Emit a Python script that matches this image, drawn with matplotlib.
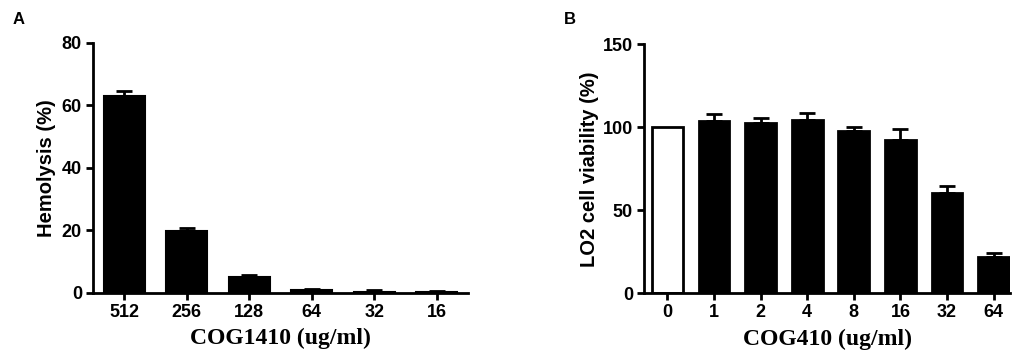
import matplotlib
matplotlib.use("Agg")
import matplotlib.pyplot as plt
import numpy as np

# Panel A - hemolysis
conc_a = ['512', '256', '128', '64', '32', '16']
hemolysis = [63.1, 19.8, 5.0, 0.8, 0.3, 0.2]
hemolysis_err = [1.5, 0.9, 0.9, 0.6, 0.5, 0.5]

# Panel B - LO2 cell viability
conc_b = ['0', '1', '2', '4', '8', '16', '32', '64']
viability = [100.0, 103.8, 102.4, 104.2, 98.0, 92.5, 60.4, 21.7]
viability_err = [0.0, 4.2, 3.4, 4.2, 2.4, 6.7, 4.4, 2.8]

TICK_FONT = dict(family='Liberation Sans', weight='bold', size=13)
XLAB_FONT = dict(family='Liberation Serif', weight='bold', size=17)
YLAB_FONT = dict(family='Liberation Sans', weight='bold', size=14.5)


def style_axes(ax):
    '''Prism-like look: only left and bottom spines, thick, outward ticks'''
    for side in ['top', 'right']:
        ax.spines[side].set_visible(False)
    for side in ['left', 'bottom']:
        ax.spines[side].set_linewidth(2)
        ax.spines[side].set_color('black')
    ax.tick_params(axis='both', width=2, length=5, direction='out', pad=3)
    for lab in ax.get_xticklabels() + ax.get_yticklabels():
        lab.set_fontproperties(matplotlib.font_manager.FontProperties(**TICK_FONT))


fig = plt.figure(figsize=(10.21, 3.57), dpi=100)

# Panel A
ax1 = fig.add_axes([0.0911, 0.1793, 0.3673, 0.7003])
x_a = np.arange(len(conc_a))
ax1.bar(x_a, hemolysis, width=0.66, color='black', edgecolor='black',
        linewidth=1.5, zorder=2)
ax1.errorbar(x_a, hemolysis, yerr=[np.zeros(len(x_a)), hemolysis_err],
             fmt='none', ecolor='black', elinewidth=2, capsize=6, capthick=2,
             zorder=1)
ax1.set_xlim(-0.5, 5.5)
ax1.set_ylim(0, 80)
ax1.set_yticks([0, 20, 40, 60, 80])
ax1.set_xticks(x_a)
ax1.set_xticklabels(conc_a)
style_axes(ax1)
ax1.set_xlabel('COG1410 (ug/ml)', labelpad=5, **XLAB_FONT)
ax1.set_ylabel('Hemolysis (%)', labelpad=4, **YLAB_FONT)
fig.text(0.012, 0.945, 'A', family='Liberation Sans', weight='bold',
         size=12, ha='left', va='center')

# Panel B
ax2 = fig.add_axes([0.6308, 0.1784, 0.3584, 0.6975])
x_b = np.arange(len(conc_b))
colors_b = ['white'] + ['black'] * (len(conc_b) - 1)
ax2.bar(x_b, viability, width=0.66, color=colors_b, edgecolor='black',
        linewidth=2, zorder=2)
ax2.errorbar(x_b[1:], viability[1:],
             yerr=[np.zeros(len(x_b) - 1), viability_err[1:]],
             fmt='none', ecolor='black', elinewidth=2, capsize=6, capthick=2,
             zorder=1)
ax2.set_xlim(-0.5, 7.35)
ax2.set_ylim(0, 150)
ax2.set_yticks([0, 50, 100, 150])
ax2.set_xticks(x_b)
ax2.set_xticklabels(conc_b)
style_axes(ax2)
ax2.set_xlabel('COG410 (ug/ml)', labelpad=5, **XLAB_FONT)
ax2.set_ylabel('LO2 cell viability (%)', labelpad=3, **YLAB_FONT)
fig.text(0.552, 0.945, 'B', family='Liberation Sans', weight='bold',
         size=12, ha='left', va='center')

fig.savefig('out.png', dpi=100)
